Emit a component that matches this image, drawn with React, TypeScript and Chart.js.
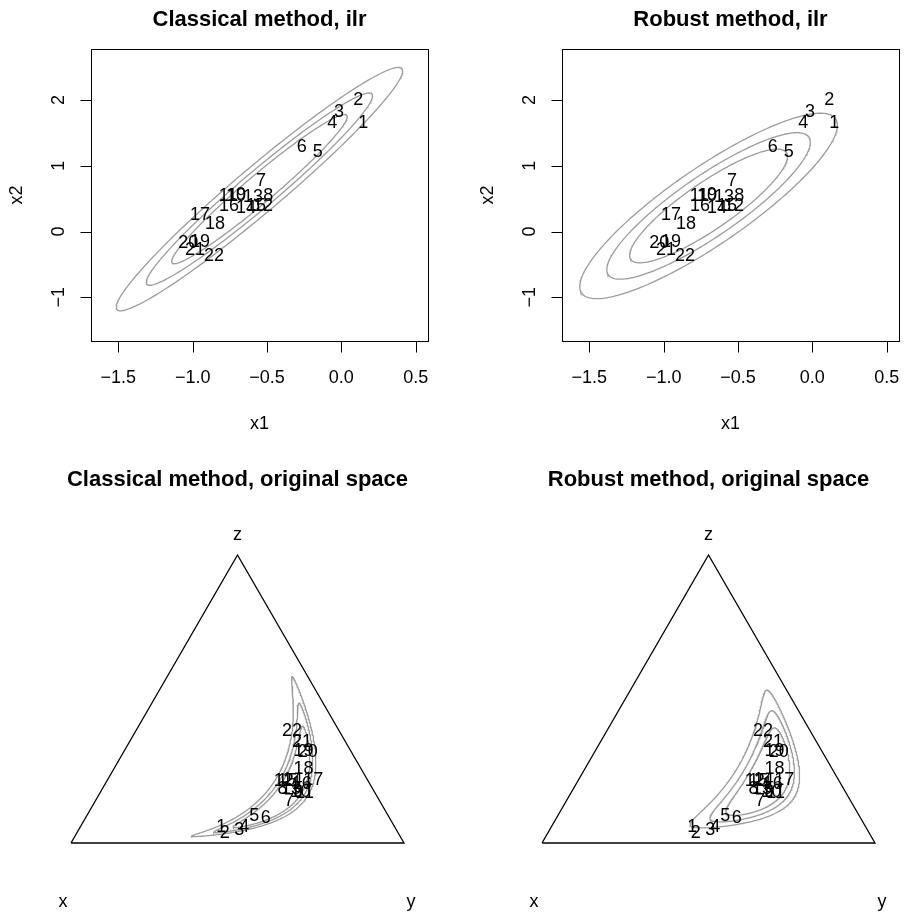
import React, { useEffect, useRef } from "react";
import { Chart, registerables } from "chart.js";

Chart.register(...registerables);

// ---------- data ----------
const POINT_LABELS = ["1","2","3","4","5","6","7","8","9","10","11","12","13","14","15","16","17","18","19","20","21","22"];
const ILR_X1 = [0.148, 0.114, -0.016, -0.061, -0.159, -0.267, -0.540, -0.491, -0.675, -0.708, -0.762, -0.527, -0.594, -0.641, -0.574, -0.755, -0.951, -0.850, -0.951, -1.029, -0.984, -0.856];
const ILR_X2 = [1.672, 2.027, 1.839, 1.672, 1.226, 1.302, 0.796, 0.558, 0.573, 0.558, 0.558, 0.406, 0.543, 0.375, 0.406, 0.406, 0.280, 0.137, -0.141, -0.152, -0.263, -0.354];

const X_TICKS = [-1.5, -1.0, -0.5, 0.0, 0.5];
const Y_TICKS = [-1, 0, 1, 2];
const X_LABEL = "x1";
const Y_LABEL = "x2";
const PART_LABELS = ["x", "y", "z"];

const CONTOUR_LEVELS = [0.75, 0.9, 0.975];
const CLASSICAL_CENTER = [-0.551, 0.645];
const CLASSICAL_SD = [0.3546, 0.681];
const CLASSICAL_RHO = 0.97;
const ROBUST_CENTER = [-0.698, 0.389];
const ROBUST_SD = [0.319, 0.519];
const ROBUST_RHO = 0.869;

const TITLES = [
  "Classical method, ilr",
  "Robust method, ilr",
  "Classical method, original space",
  "Robust method, original space",
];

// ---------- styling / layout ----------
const FONT = '"Liberation Sans", Arial, Helvetica, sans-serif';
const GRAY = "#9c9c9c";
const PANEL_W = 471;
const PANEL_H = 458;
const ILR_X_RANGE = [-1.684, 0.583];
const ILR_Y_RANGE = [-1.664, 2.775];
const SQ3_2 = Math.sqrt(3) / 2;

// ---------- helpers ----------
function chiRadius(p: number) {
  return Math.sqrt(-2 * Math.log(1 - p));
}

function ellipse(center: number[], sd: number[], rho: number, r: number, n = 240) {
  const pts: { x: number; y: number }[] = [];
  const k = Math.sqrt(1 - rho * rho);
  for (let i = 0; i <= n; i++) {
    const t = (2 * Math.PI * i) / n;
    const c = Math.cos(t), s = Math.sin(t);
    pts.push({
      x: center[0] + r * sd[0] * c,
      y: center[1] + r * sd[1] * (rho * c + k * s),
    });
  }
  return pts;
}

function ilrToTernary(z1: number, z2: number) {
  const a = Math.sqrt(1.5) * z2 + z1 / Math.SQRT2;
  const b = Math.sqrt(1.5) * z2 - z1 / Math.SQRT2;
  const ex = Math.exp(a), ey = Math.exp(b), ez = 1;
  const s = ex + ey + ez;
  const y = ey / s, z = ez / s;
  return { x: y + z / 2, y: z * SQ3_2 };
}

function fmtTick(v: number, digits: number) {
  const s = Math.abs(v).toFixed(digits);
  return v < 0 ? "\u2212" + s : s;
}

function drawLabels(chart: any, dsIndex: number) {
  const ctx = chart.ctx;
  const meta = chart.getDatasetMeta(dsIndex);
  ctx.save();
  ctx.fillStyle = "#000";
  ctx.font = `18px ${FONT}`;
  ctx.textAlign = "center";
  ctx.textBaseline = "alphabetic";
  meta.data.forEach((el: any, i: number) => {
    ctx.fillText(POINT_LABELS[i], el.x, el.y + 6.4);
  });
  ctx.restore();
}

function drawTitle(ctx: CanvasRenderingContext2D, text: string, cx: number, baseline: number) {
  ctx.save();
  ctx.fillStyle = "#000";
  ctx.font = `bold 22px ${FONT}`;
  ctx.textAlign = "center";
  ctx.textBaseline = "alphabetic";
  ctx.fillText(text, cx, baseline);
  ctx.restore();
}

// ---------- ilr panels ----------
function ilrConfig(title: string, center: number[], sd: number[], rho: number) {
  const datasets: any[] = CONTOUR_LEVELS.map((p) => ({
    data: ellipse(center, sd, rho, chiRadius(p)),
    showLine: true,
    borderColor: GRAY,
    borderWidth: 1.3,
    pointRadius: 0,
    fill: false,
    tension: 0,
  }));
  datasets.push({
    data: ILR_X1.map((v, i) => ({ x: v, y: ILR_X2[i] })),
    showLine: false,
    pointRadius: 0,
  });
  const labelIndex = datasets.length - 1;

  const plugin = {
    id: "ilrDecor",
    afterDatasetsDraw(chart: any) {
      drawLabels(chart, labelIndex);
    },
    afterDraw(chart: any) {
      const { ctx, chartArea: a, scales } = chart;
      const xs = scales.x, ys = scales.y;
      const L = Math.round(a.left) + 0.5, R = Math.round(a.right) + 0.5;
      const T = Math.round(a.top) + 0.5, B = Math.round(a.bottom) + 0.5;
      ctx.save();
      ctx.strokeStyle = "#000";
      ctx.lineWidth = 1;
      ctx.strokeRect(L, T, R - L, B - T);
      ctx.fillStyle = "#000";
      ctx.font = `18px ${FONT}`;
      ctx.textAlign = "center";
      ctx.textBaseline = "alphabetic";
      // x axis
      ctx.beginPath();
      X_TICKS.forEach((v) => {
        const px = Math.round(xs.getPixelForValue(v)) + 0.5;
        ctx.moveTo(px, B);
        ctx.lineTo(px, B + 11);
      });
      ctx.stroke();
      X_TICKS.forEach((v) => {
        ctx.fillText(fmtTick(v, 1), xs.getPixelForValue(v), B + 41.5);
      });
      ctx.fillText(X_LABEL, (a.left + a.right) / 2, B + 87);
      // y axis
      ctx.beginPath();
      Y_TICKS.forEach((v) => {
        const py = Math.round(ys.getPixelForValue(v)) + 0.5;
        ctx.moveTo(L, py);
        ctx.lineTo(L - 11, py);
      });
      ctx.stroke();
      Y_TICKS.forEach((v) => {
        ctx.save();
        ctx.translate(L - 27.5, ys.getPixelForValue(v));
        ctx.rotate(-Math.PI / 2);
        ctx.fillText(fmtTick(v, 0), 0, 0);
        ctx.restore();
      });
      ctx.save();
      ctx.translate(L - 69.5, (a.top + a.bottom) / 2);
      ctx.rotate(-Math.PI / 2);
      ctx.fillText(Y_LABEL, 0, 0);
      ctx.restore();
      ctx.restore();
      drawTitle(ctx, title, (a.left + a.right) / 2, 26);
    },
  };

  return {
    type: "scatter",
    data: { datasets },
    options: {
      responsive: false,
      animation: false,
      events: [],
      layout: { padding: { left: 91, right: PANEL_W - 428, top: 49, bottom: PANEL_H - 341 } },
      plugins: { legend: { display: false }, tooltip: { enabled: false }, title: { display: false } },
      scales: {
        x: { type: "linear", display: false, min: ILR_X_RANGE[0], max: ILR_X_RANGE[1] },
        y: { type: "linear", display: false, min: ILR_Y_RANGE[0], max: ILR_Y_RANGE[1] },
      },
    },
    plugins: [plugin],
  };
}

// ---------- ternary panels ----------
function ternaryConfig(title: string, center: number[], sd: number[], rho: number) {
  const datasets: any[] = [
    {
      data: [
        { x: 0, y: 0 },
        { x: 1, y: 0 },
        { x: 0.5, y: SQ3_2 },
        { x: 0, y: 0 },
      ],
      showLine: true,
      borderColor: "#000",
      borderWidth: 1.3,
      pointRadius: 0,
      fill: false,
      tension: 0,
      clip: false,
    },
  ];
  CONTOUR_LEVELS.forEach((p) => {
    datasets.push({
      data: ellipse(center, sd, rho, chiRadius(p), 400).map((q) => ilrToTernary(q.x, q.y)),
      showLine: true,
      borderColor: GRAY,
      borderWidth: 1.3,
      pointRadius: 0,
      fill: false,
      tension: 0,
    });
  });
  datasets.push({
    data: ILR_X1.map((v, i) => ilrToTernary(v, ILR_X2[i])),
    showLine: false,
    pointRadius: 0,
  });
  const labelIndex = datasets.length - 1;

  const plugin = {
    id: "ternDecor",
    afterDatasetsDraw(chart: any) {
      drawLabels(chart, labelIndex);
    },
    afterDraw(chart: any) {
      const { ctx, scales } = chart;
      const xs = scales.x, ys = scales.y;
      ctx.save();
      ctx.fillStyle = "#000";
      ctx.font = `18px ${FONT}`;
      ctx.textAlign = "center";
      ctx.textBaseline = "alphabetic";
      const x0 = xs.getPixelForValue(0), x1 = xs.getPixelForValue(1), xm = xs.getPixelForValue(0.5);
      const yb = ys.getPixelForValue(0), yt = ys.getPixelForValue(SQ3_2);
      ctx.fillText(PART_LABELS[0], x0 - 8, yb + 64);
      ctx.fillText(PART_LABELS[1], x1 + 7, yb + 64);
      ctx.fillText(PART_LABELS[2], xm, yt - 15);
      ctx.restore();
      drawTitle(ctx, title, xm, 28);
    },
  };

  return {
    type: "scatter",
    data: { datasets },
    options: {
      responsive: false,
      animation: false,
      events: [],
      layout: { padding: { left: 71, right: PANEL_W - 404, top: 97, bottom: PANEL_H - 385 } },
      plugins: { legend: { display: false }, tooltip: { enabled: false }, title: { display: false } },
      scales: {
        x: { type: "linear", display: false, min: 0, max: 1 },
        y: { type: "linear", display: false, min: 0, max: SQ3_2 },
      },
    },
    plugins: [plugin],
  };
}

// ---------- components ----------
function Panel({ left, top, make }: { left: number; top: number; make: () => any }) {
  const ref = useRef<HTMLCanvasElement | null>(null);
  useEffect(() => {
    if (!ref.current) return;
    const chart = new Chart(ref.current, make());
    return () => chart.destroy();
  }, []);
  return (
    <canvas
      ref={ref}
      width={PANEL_W}
      height={PANEL_H}
      style={{ position: "absolute", left, top, width: PANEL_W, height: PANEL_H }}
    />
  );
}

export default function App() {
  return (
    <div
      style={{
        position: "absolute",
        left: 0,
        top: 0,
        width: 905,
        height: 916,
        overflow: "hidden",
        background: "#fff",
      }}
    >
      <Panel left={0} top={0} make={() => ilrConfig(TITLES[0], CLASSICAL_CENTER, CLASSICAL_SD, CLASSICAL_RHO)} />
      <Panel left={471} top={0} make={() => ilrConfig(TITLES[1], ROBUST_CENTER, ROBUST_SD, ROBUST_RHO)} />
      <Panel left={0} top={458} make={() => ternaryConfig(TITLES[2], CLASSICAL_CENTER, CLASSICAL_SD, CLASSICAL_RHO)} />
      <Panel left={471} top={458} make={() => ternaryConfig(TITLES[3], ROBUST_CENTER, ROBUST_SD, ROBUST_RHO)} />
    </div>
  );
}
